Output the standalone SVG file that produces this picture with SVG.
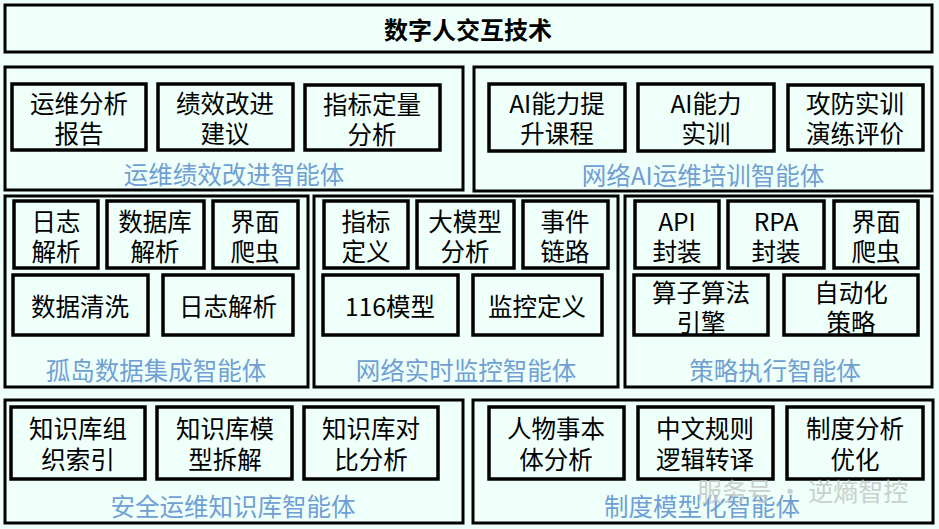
<svg xmlns="http://www.w3.org/2000/svg" width="939" height="529" viewBox="0 0 939 529">
<style>
.bg{fill:#effffa}
.frame{fill:#effffa;stroke:#000;stroke-width:3}
.box{fill:#effffa;stroke:#000;stroke-width:3.5}
.t{font-family:"Noto Sans CJK SC","Microsoft YaHei",sans-serif;font-size:24.5px;fill:#000;text-anchor:middle;dominant-baseline:central}
.lab{font-family:"Noto Sans CJK SC","Microsoft YaHei",sans-serif;font-size:24.5px;fill:#6f9fd4;text-anchor:middle;dominant-baseline:central}
.title{font-family:"Noto Sans CJK SC","Microsoft YaHei",sans-serif;font-size:24px;font-weight:bold;fill:#000;text-anchor:middle;dominant-baseline:central}
.wm{font-family:"Noto Sans CJK SC","Microsoft YaHei",sans-serif;font-size:25px;fill:#c4c8c6;text-anchor:start;dominant-baseline:central}
</style>
<rect class="bg" x="0" y="0" width="939" height="529"/>
<g id="title">
<rect class="frame" x="5" y="5" width="927" height="47"/>
<text class="title" x="468" y="28">数字人交互技术</text>
</g>

<g id="panel-yunwei">
<rect class="frame" x="5" y="67" width="458" height="123"/>
<text class="lab" x="234" y="173">运维绩效改进智能体</text>
<g id="n-yunwei-report"><rect class="box" x="12" y="84" width="134" height="66"/><text class="t" x="79" y="102">运维分析</text><text class="t" x="79" y="132">报告</text></g>
<g id="n-jixiao"><rect class="box" x="158" y="84" width="135" height="66"/><text class="t" x="225" y="102">绩效改进</text><text class="t" x="225" y="132">建议</text></g>
<g id="n-zhibiao-dl"><rect class="box" x="305" y="85" width="135" height="65"/><text class="t" x="372" y="103">指标定量</text><text class="t" x="372" y="133">分析</text></g>
</g>

<g id="panel-ai">
<rect class="frame" x="474" y="67" width="458" height="124"/>
<text class="lab" x="703" y="174">网络AI运维培训智能体</text>
<g id="n-ai-course"><rect class="box" x="489" y="84" width="136" height="67"/><text class="t" x="557" y="102">AI能力提</text><text class="t" x="557" y="132">升课程</text></g>
<g id="n-ai-train"><rect class="box" x="638" y="84" width="136" height="67"/><text class="t" x="706" y="102">AI能力</text><text class="t" x="706" y="132">实训</text></g>
<g id="n-gongfang"><rect class="box" x="788" y="85" width="135" height="65"/><text class="t" x="855" y="102">攻防实训</text><text class="t" x="855" y="132">演练评价</text></g>
</g>

<g id="panel-gudao">
<rect class="frame" x="5" y="196" width="303" height="191"/>
<text class="lab" x="156" y="369">孤岛数据集成智能体</text>
<g id="n-rizhi1"><rect class="box" x="14" y="201" width="84" height="67"/><text class="t" x="56" y="220">日志</text><text class="t" x="56" y="250">解析</text></g>
<g id="n-shujuku"><rect class="box" x="107" y="201" width="97" height="67"/><text class="t" x="155" y="220">数据库</text><text class="t" x="155" y="250">解析</text></g>
<g id="n-jiemian1"><rect class="box" x="213" y="201" width="85" height="67"/><text class="t" x="255" y="220">界面</text><text class="t" x="255" y="250">爬虫</text></g>
<g id="n-qingxi"><rect class="box" x="13" y="275" width="135" height="60"/><text class="t" x="80" y="305">数据清洗</text></g>
<g id="n-rizhi2"><rect class="box" x="163" y="275" width="130" height="60"/><text class="t" x="228" y="305">日志解析</text></g>
</g>

<g id="panel-jiankong">
<rect class="frame" x="314" y="196" width="304" height="191"/>
<text class="lab" x="466" y="369">网络实时监控智能体</text>
<g id="n-zbdy"><rect class="box" x="324" y="201" width="84" height="67"/><text class="t" x="366" y="220">指标</text><text class="t" x="366" y="250">定义</text></g>
<g id="n-damoxing"><rect class="box" x="417" y="201" width="97" height="67"/><text class="t" x="465" y="220">大模型</text><text class="t" x="465" y="250">分析</text></g>
<g id="n-shijian"><rect class="box" x="523" y="201" width="85" height="67"/><text class="t" x="565" y="220">事件</text><text class="t" x="565" y="250">链路</text></g>
<g id="n-116"><rect class="box" x="323" y="275" width="135" height="60"/><text class="t" x="390" y="305">116模型</text></g>
<g id="n-jkdy"><rect class="box" x="473" y="275" width="129" height="60"/><text class="t" x="537" y="305">监控定义</text></g>
</g>

<g id="panel-celue">
<rect class="frame" x="625" y="196" width="307" height="191"/>
<text class="lab" x="775" y="369">策略执行智能体</text>
<g id="n-api"><rect class="box" x="635" y="201" width="84" height="67"/><text class="t" x="677" y="220">API</text><text class="t" x="677" y="250">封装</text></g>
<g id="n-rpa"><rect class="box" x="728" y="201" width="96" height="67"/><text class="t" x="776" y="220">RPA</text><text class="t" x="776" y="250">封装</text></g>
<g id="n-jiemian2"><rect class="box" x="834" y="201" width="84" height="67"/><text class="t" x="876" y="220">界面</text><text class="t" x="876" y="250">爬虫</text></g>
<g id="n-suanzi"><rect class="box" x="634" y="275" width="134" height="60"/><text class="t" x="701" y="291">算子算法</text><text class="t" x="701" y="321">引擎</text></g>
<g id="n-zidong"><rect class="box" x="784" y="275" width="134" height="60"/><text class="t" x="851" y="291">自动化</text><text class="t" x="851" y="321">策略</text></g>
</g>

<g id="panel-zhishi">
<rect class="frame" x="5" y="400" width="458" height="123"/>
<text class="lab" x="233" y="505">安全运维知识库智能体</text>
<g id="n-zs1"><rect class="box" x="11" y="407" width="134" height="72"/><text class="t" x="78" y="427">知识库组</text><text class="t" x="78" y="458">织索引</text></g>
<g id="n-zs2"><rect class="box" x="157" y="407" width="135" height="72"/><text class="t" x="225" y="427">知识库模</text><text class="t" x="225" y="458">型拆解</text></g>
<g id="n-zs3"><rect class="box" x="304" y="407" width="134" height="72"/><text class="t" x="371" y="427">知识库对</text><text class="t" x="371" y="458">比分析</text></g>
</g>

<g id="panel-zhidu">
<rect class="frame" x="473" y="400" width="460" height="123"/>
<text class="lab" x="702" y="505">制度模型化智能体</text>
<g id="n-zd1"><rect class="box" x="489" y="407" width="135" height="72"/><text class="t" x="556" y="427">人物事本</text><text class="t" x="556" y="458">体分析</text></g>
<g id="n-zd2"><rect class="box" x="638" y="407" width="135" height="72"/><text class="t" x="705" y="427">中文规则</text><text class="t" x="705" y="458">逻辑转译</text></g>
<g id="n-zd3"><rect class="box" x="787" y="407" width="136" height="72"/><text class="t" x="855" y="427">制度分析</text><text class="t" x="855" y="458">优化</text></g>
</g>

<g id="connectors"></g>

<text class="wm" x="697" y="490" opacity="0.85">服务号 · 逆熵智控</text>
</svg>
